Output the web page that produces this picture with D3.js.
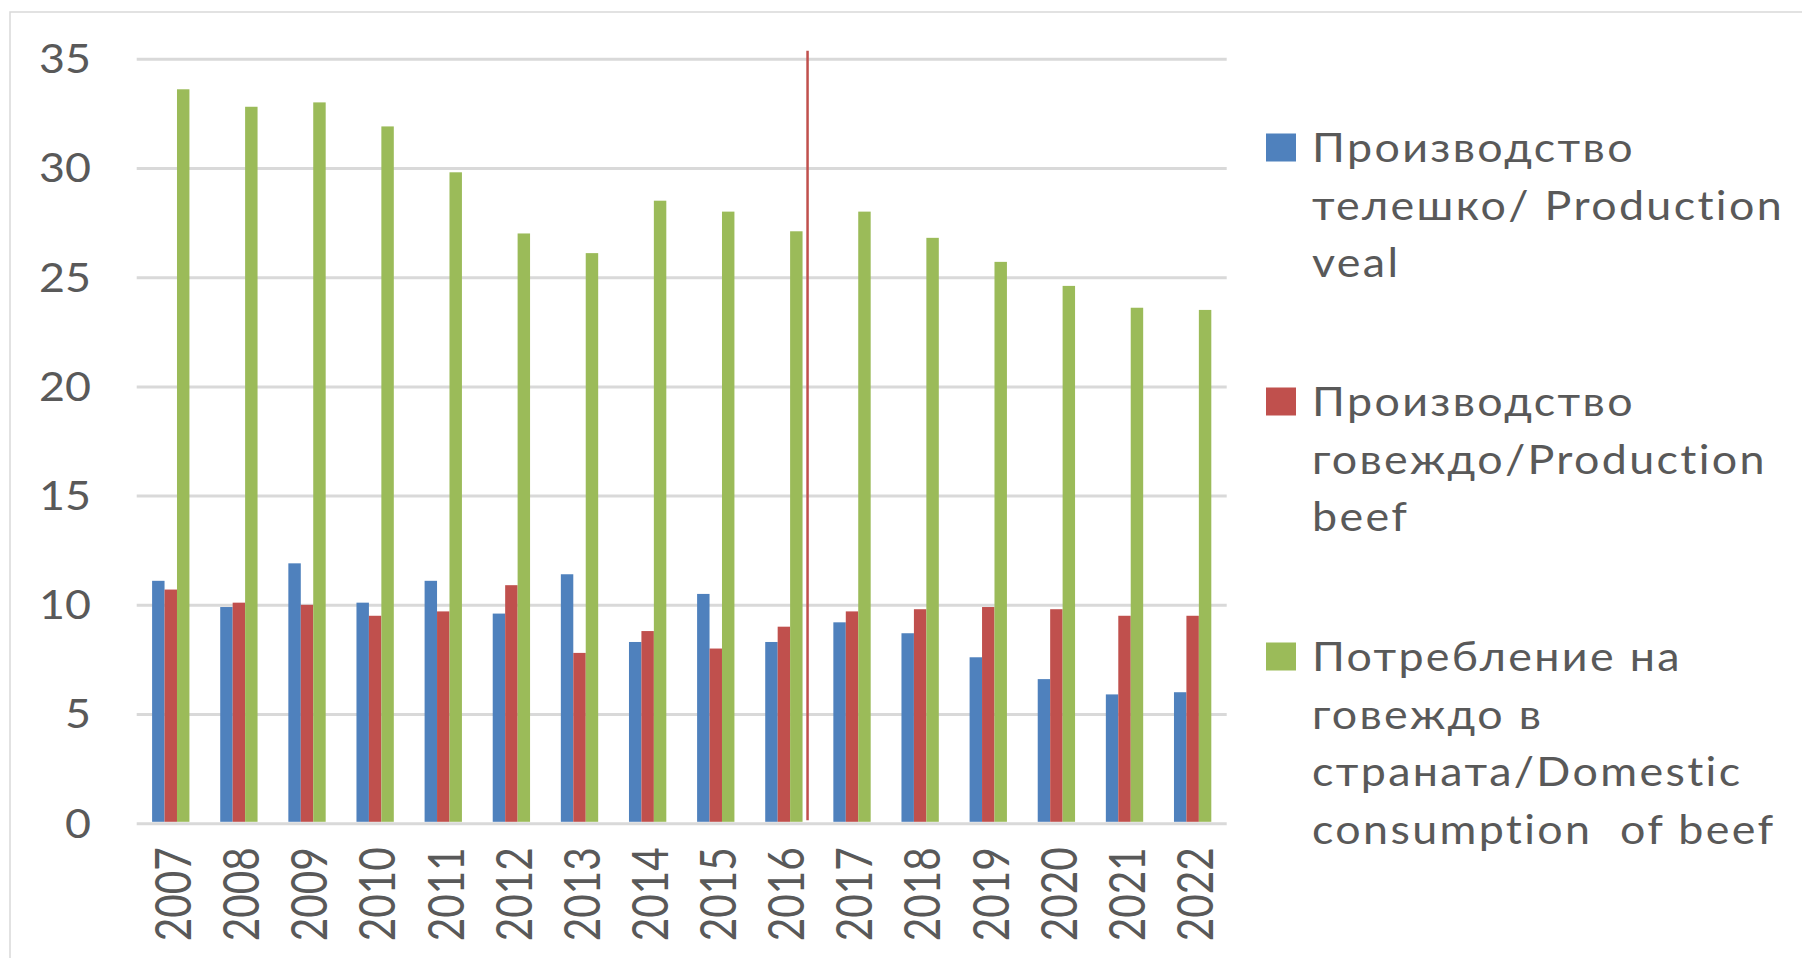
<!DOCTYPE html>
<html>
<head>
<meta charset="utf-8">
<script src="https://cdn.jsdelivr.net/npm/d3@7"></script>
<style>
  body { margin: 0; background: #fff; }
  svg { display: block; font-family: Lato, "Open Sans", sans-serif; }
  .lbl { fill: #595959; }
  .legend text { white-space: pre; letter-spacing: 2.1px; }
</style>
</head>
<body>
<svg id="chart" width="1802" height="958"></svg>
<script>

var years = ["2007", "2008", "2009", "2010", "2011", "2012", "2013", "2014",
             "2015", "2016", "2017", "2018", "2019", "2020", "2021", "2022"];

// thousand tonnes
var veal = [11.1, 9.9, 11.9, 10.1, 11.1, 9.6, 11.4, 8.3, 10.5, 8.3, 9.2, 8.7, 7.6, 6.6, 5.9, 6.0];
var beef = [10.7, 10.1, 10.0, 9.5, 9.7, 10.9, 7.8, 8.8, 8.0, 9.0, 9.7, 9.8, 9.9, 9.8, 9.5, 9.5];
var consumption = [33.6, 32.8, 33.0, 31.9, 29.8, 27.0, 26.1, 28.5, 28.0, 27.1, 28.0, 26.8, 25.7, 24.6, 23.6, 23.5];

var yTicks = [0, 5, 10, 15, 20, 25, 30, 35];
var markerYear = "2016";

var legendLines = [
    ["Производство", "телешко/ Production", "veal"],
    ["Производство", "говеждо/Production", "beef"],
    ["Потребление на", "говеждо в", "страната/Domestic", "consumption  of beef"]
];

var colors = ["#4F81BD", "#C0504D", "#9BBB59"];
var series = [veal, beef, consumption];

var svg = d3.select("#chart");

var plot = {left: 136.7, right: 1226.7, top: 58.7, bottom: 823.3};

var y = d3.scaleLinear().domain([0, 35]).range([plot.bottom, plot.top]);

var x0 = d3.scaleBand()
    .domain(years)
    .range([plot.left, plot.right])
    .paddingInner(0.452)
    .paddingOuter(0.226);

var x1 = d3.scaleBand()
    .domain(d3.range(series.length))
    .range([0, x0.bandwidth()]);

// chart frame
svg.append("rect")
    .attr("x", 10).attr("y", 12)
    .attr("width", 1810).attr("height", 960)
    .attr("fill", "none")
    .attr("stroke", "#D9D9D9")
    .attr("stroke-width", 1.5);

// gridlines
var yAxis = d3.axisLeft(y)
    .tickValues(yTicks)
    .tickSize(-(plot.right - plot.left))
    .tickFormat("");

svg.append("g")
    .attr("transform", "translate(" + plot.left + ",0)")
    .call(yAxis)
    .call(function(g){
        g.select(".domain").remove();
        g.selectAll(".tick line")
            .attr("stroke", "#D9D9D9")
            .attr("stroke-width", 3);
    });

// y labels
svg.append("g").selectAll("text")
    .data(yTicks)
    .join("text")
    .attr("class", "lbl")
    .attr("transform", function(d){ return "translate(91," + y(d) + ") scale(1.12,1)"; })
    .attr("dy", "0.36em")
    .attr("text-anchor", "end")
    .attr("font-size", 40)
    .text(function(d){ return d; });

// bars
var groups = svg.append("g").selectAll("g")
    .data(years)
    .join("g")
    .attr("transform", function(d){ return "translate(" + x0(d) + ",0)"; });

groups.selectAll("rect")
    .data(function(d, i){
        return series.map(function(s, k){ return {k: k, value: s[i]}; });
    })
    .join("rect")
    .attr("x", function(d){ return x1(d.k); })
    .attr("width", x1.bandwidth())
    .attr("y", function(d){ return y(d.value); })
    .attr("height", function(d){ return y(0) - y(d.value) - 1.5; })
    .attr("fill", function(d){ return colors[d.k]; });

// x labels, rotated
svg.append("g")
    .selectAll("text")
    .data(years)
    .join("text")
    .attr("class", "lbl")
    .attr("transform", function(d){
        return "translate(" + (x0(d) + x0.bandwidth() / 2 + 2) + "," + (plot.bottom + 24) + ") scale(1.25,1) rotate(-90)";
    })
    .attr("dy", "0.36em")
    .attr("text-anchor", "end")
    .attr("font-size", 40.5)
    .text(function(d){ return d; });

// divider between 2016 and 2017
var mx = x0(markerYear) + x0.bandwidth() + 5;
svg.append("line")
    .attr("x1", mx).attr("x2", mx)
    .attr("y1", y(35) - 8).attr("y2", y(0) - 3)
    .attr("stroke", "#C0504D")
    .attr("stroke-width", 2.5);

// legend
var legendTop = [162, 416, 671];
var legend = svg.append("g").attr("class", "legend");

legendLines.forEach(function(lines, i){
    legend.append("rect")
        .attr("x", 1266).attr("y", legendTop[i] - 28.5)
        .attr("width", 30).attr("height", 28)
        .attr("fill", colors[i]);
    lines.forEach(function(line, j){
        legend.append("text")
            .attr("class", "lbl")
            .attr("transform", "translate(1312," + (legendTop[i] + j * 57.5) + ") scale(1.12,1)")
            .attr("font-size", 40)
            .text(line);
    });
});

</script>
</body>
</html>
